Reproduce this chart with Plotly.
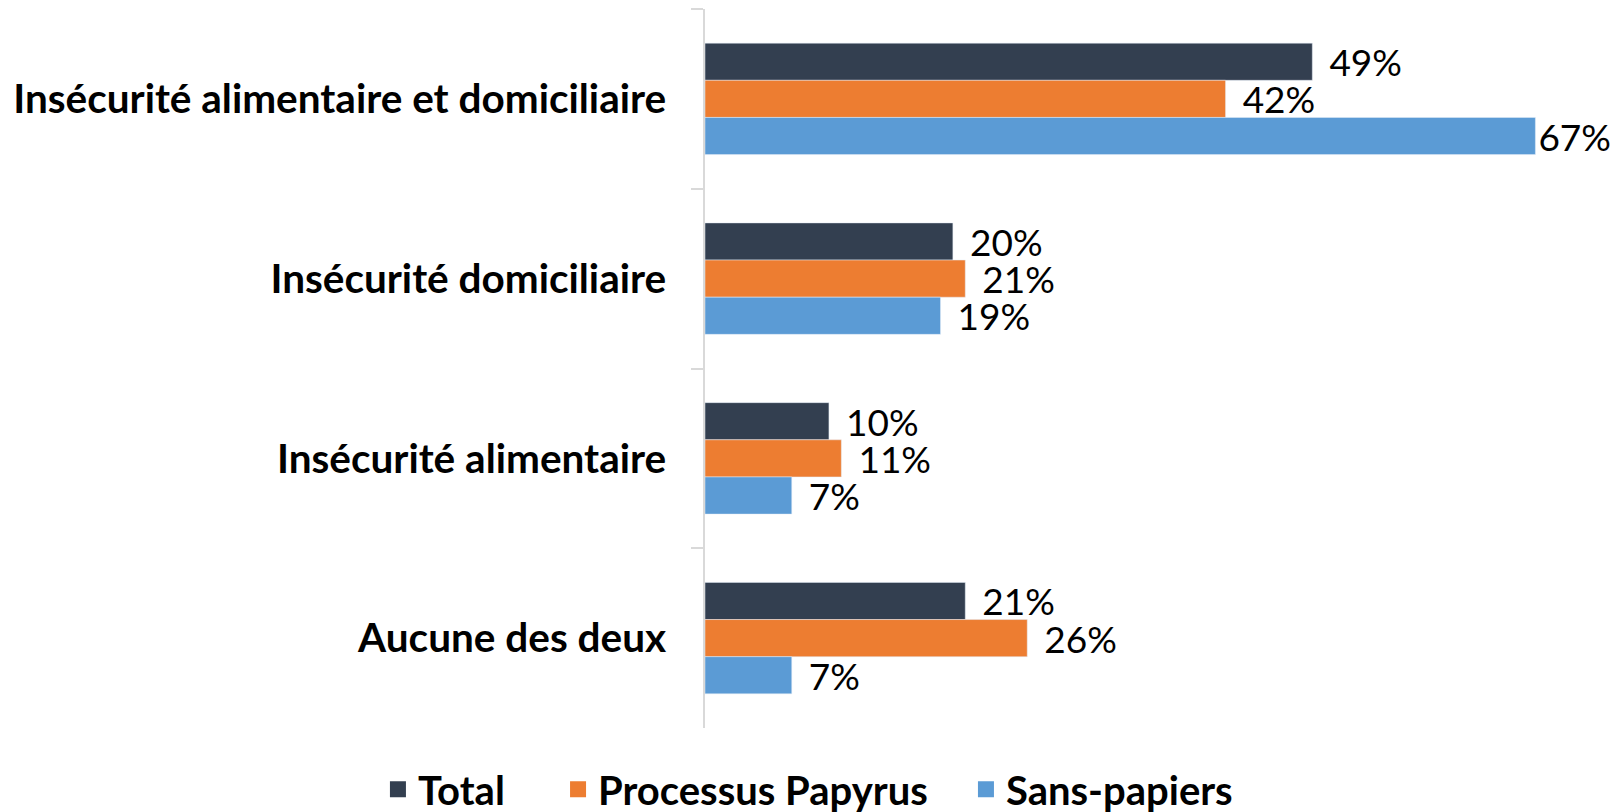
import plotly.graph_objects as go

categories = [
    "Insécurité alimentaire et domiciliaire",
    "Insécurité domiciliaire",
    "Insécurité alimentaire",
    "Aucune des deux",
]
series_names = ["Total", "Processus Papyrus", "Sans-papiers"]
total = [49, 20, 10, 21]
papyrus = [42, 21, 11, 26]
sans_papiers = [67, 19, 7, 7]

colors = ["#333F50", "#ED7D31", "#5B9BD5"]
legend_ids = ["legend", "legend2", "legend3"]
legend_x = [0.2346, 0.3464, 0.5996]
X_MAX = 73.1
FONT = "Lato, Calibri, sans-serif"

fig = go.Figure()
for name, vals, col, lg in zip(series_names, [total, papyrus, sans_papiers], colors, legend_ids):
    # Excel keeps the label of the longest bar inside the chart area
    labels = [("\u2009\u00a0" if v < 60 else "") + f"{v}%" for v in vals]
    fig.add_trace(go.Bar(
        y=categories, x=vals, name=name, orientation="h",
        marker_color=col, showlegend=False,
        text=labels, textposition="outside", constraintext="none",
        textfont=dict(family=FONT, size=37, color="#000000"),
        cliponaxis=False,
    ))
    # legend-only entry, to get a bigger square swatch
    fig.add_trace(go.Scatter(
        x=[None], y=[None], mode="markers", name=name, legend=lg,
        marker=dict(symbol="square", size=16, color=col),
    ))

legend_common = dict(
    orientation="h", xref="container", yref="container",
    xanchor="left", y=0.028, yanchor="middle",
    font=dict(family=FONT, size=40, weight="bold"),
    bgcolor="rgba(0,0,0,0)",
)

fig.update_layout(
    width=1611, height=812,
    margin=dict(l=705, r=0, t=9, b=84),
    plot_bgcolor="white", paper_bgcolor="white",
    barmode="group", bargap=0.38, bargroupgap=0,
    font=dict(family=FONT, color="#000000"),
    legend=dict(x=legend_x[0], **legend_common),
    legend2=dict(x=legend_x[1], **legend_common),
    legend3=dict(x=legend_x[2], **legend_common),
)
fig.update_xaxes(range=[0, X_MAX], visible=False, showgrid=False)
fig.update_yaxes(
    autorange="reversed", tickson="boundaries",
    ticks="outside", ticklen=12, tickcolor="#D9D9D9", tickwidth=1.5,
    showline=True, linecolor="#D9D9D9", linewidth=1.5,
    ticklabelstandoff=29,
    tickfont=dict(size=40.5, weight="bold"),
    showgrid=False,
)

fig.write_html(
    "out.html",
    config={"displayModeBar": False},
    post_script="document.body.style.margin = '0';",
)
